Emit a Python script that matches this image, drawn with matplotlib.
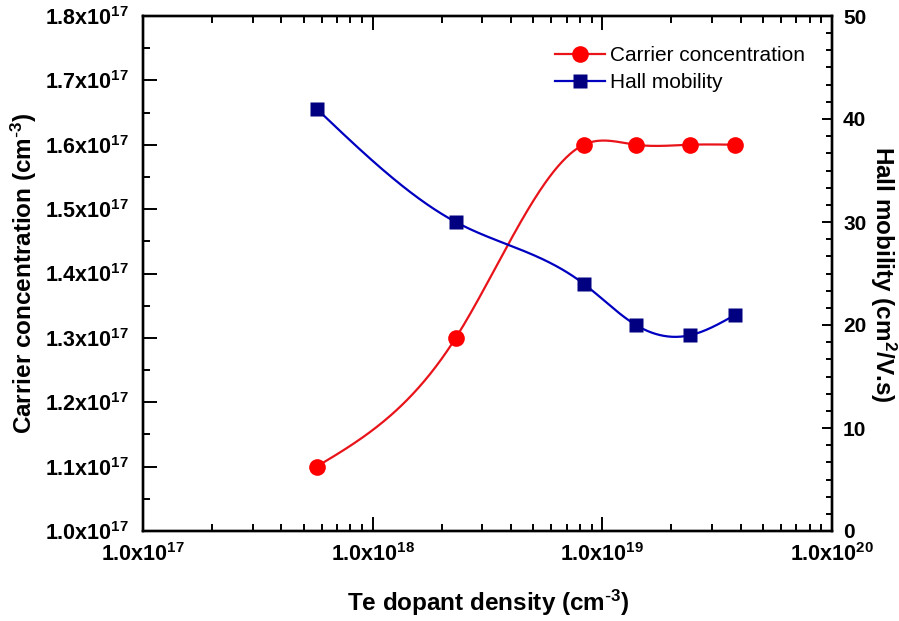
import numpy as np
import matplotlib
matplotlib.use("Agg")
import matplotlib.pyplot as plt
from matplotlib.ticker import FuncFormatter, AutoMinorLocator, NullFormatter, LogLocator

plt.rcParams['font.family'] = ['Liberation Sans', 'DejaVu Sans']
plt.rcParams['mathtext.default'] = 'regular'

# data
te_density = [5.7e17, 2.3e18, 8.3e18, 1.4e19, 2.4e19, 3.8e19]
carrier_conc = [1.10e17, 1.30e17, 1.60e17, 1.60e17, 1.60e17, 1.60e17]
hall_mobility = [41, 30, 24, 20, 19, 21]


def natural_spline(x, y, xs):
    # natural cubic spline, done by hand (no scipy here)
    x = np.asarray(x, float)
    y = np.asarray(y, float)
    n = len(x)
    h = np.diff(x)
    A = np.zeros((n, n))
    b = np.zeros(n)
    A[0, 0] = 1
    A[-1, -1] = 1
    for i in range(1, n - 1):
        A[i, i - 1] = h[i - 1]
        A[i, i] = 2 * (h[i - 1] + h[i])
        A[i, i + 1] = h[i]
        b[i] = 3 * ((y[i + 1] - y[i]) / h[i] - (y[i] - y[i - 1]) / h[i - 1])
    c = np.linalg.solve(A, b)
    out = np.zeros_like(xs)
    for j, xv in enumerate(xs):
        i = min(max(np.searchsorted(x, xv) - 1, 0), n - 2)
        dx = xv - x[i]
        bi = (y[i + 1] - y[i]) / h[i] - h[i] * (2 * c[i] + c[i + 1]) / 3
        di = (c[i + 1] - c[i]) / (3 * h[i])
        out[j] = y[i] + bi * dx + c[i] * dx ** 2 + di * dx ** 3
    return out


lx = np.log10(te_density)
lxs = np.linspace(lx[0], lx[-1], 300)
xs = 10 ** lxs
red_s = natural_spline(lx, np.array(carrier_conc) / 1e17, lxs) * 1e17
blue_s = natural_spline(lx, hall_mobility, lxs)

fig = plt.figure(figsize=(8.99, 6.21), dpi=100)
ax = fig.add_axes([143 / 899, 1 - 531 / 621, (832 - 143) / 899, (531 - 16) / 621])
ax2 = ax.twinx()

red_line = '#E8141A'
ax.plot(xs, red_s, color=red_line, lw=1.6, zorder=2)
ax.plot(te_density, carrier_conc, 'o', color='#FF0000', ms=12, mec='none', zorder=3)
ax2.plot(xs, blue_s, color='#0000C0', lw=1.6, zorder=2)
ax2.plot(te_density, hall_mobility, 's', color='#000080', ms=10.5, mec='none', zorder=3)

ax.set_xscale('log')
ax.set_xlim(1e17, 1e20)
ax.set_ylim(1.0e17, 1.8e17)
ax2.set_ylim(0, 50)

ax.set_yticks(np.arange(1.0e17, 1.81e17, 0.1e17))
ax.yaxis.set_minor_locator(AutoMinorLocator(2))
ax.yaxis.set_major_formatter(FuncFormatter(lambda v, p: f"{v / 1e17:.1f}x10$^{{17}}$"))
ax.set_xticks([1e17, 1e18, 1e19, 1e20])
ax.xaxis.set_minor_locator(LogLocator(base=10, subs=np.arange(2, 10)))
ax.xaxis.set_minor_formatter(NullFormatter())
ax.xaxis.set_major_formatter(FuncFormatter(lambda v, p: f"1.0x10$^{{{int(round(np.log10(v)))}}}$"))
ax2.set_yticks(np.arange(0, 51, 10))
ax2.yaxis.set_minor_locator(AutoMinorLocator(6))

ax.tick_params(which='major', direction='in', length=10, width=1.4, top=True, right=False,
               labelsize=15.5, pad=10)
ax.tick_params(which='minor', direction='in', length=5, width=1.4, top=True, right=False)
ax.tick_params(axis='x', which='major', pad=9)
ax2.tick_params(which='major', direction='in', length=7, width=1.4, labelsize=15, pad=8)
ax2.tick_params(which='minor', direction='in', length=4, width=1.4)
for a in (ax, ax2):
    for lab in a.get_xticklabels() + a.get_yticklabels():
        lab.set_fontweight('bold')
    for s in a.spines.values():
        s.set_linewidth(1.7)

fig.text(24 / 899, 1 - 273 / 621, r"Carrier concentration (cm$^{\text{-}3}$)", rotation=90,
         ha='center', va='center', fontsize=17.5, fontweight='bold')
fig.text(488 / 899, 1 - 603 / 621, r"Te dopant density (cm$^{\text{-}3}$)",
         ha='center', va='center', fontsize=17.5, fontweight='bold')
fig.text(883 / 899, 1 - 274 / 621, "Hall mobility (cm$^{2}$/V.s)", rotation=-90,
         ha='center', va='center', fontsize=17.5, fontweight='bold')

h1, = ax.plot([], [], '-o', color=red_line, mfc='#FF0000', mec='none', ms=12, lw=1.6)
h2, = ax.plot([], [], '-s', color='#0000C0', mfc='#000080', mec='none', ms=10.5, lw=1.6)
ax2.legend([h1, h2], ["Carrier concentration", "Hall mobility"], loc='upper left',
           bbox_to_anchor=(555 / 899, 1 - 46 / 621), bbox_transform=fig.transFigure,
           frameon=False, fontsize=15, handlelength=2.4, handletextpad=0.25,
           labelspacing=0.38, borderpad=0, borderaxespad=0)

fig.savefig("out.png", dpi=100)
